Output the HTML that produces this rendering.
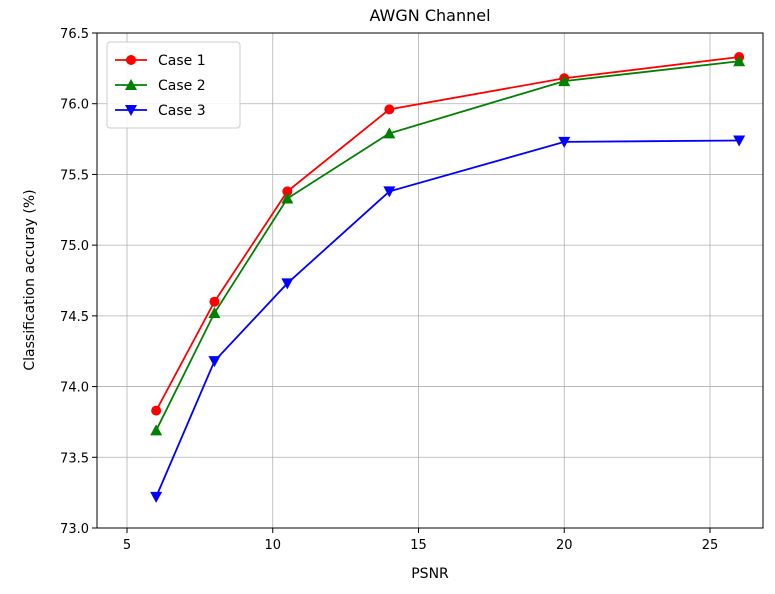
<!DOCTYPE html>
<html><head><meta charset="utf-8"><style>
body{margin:0;background:#fff;}
svg text{font-family:"DejaVu Sans","Liberation Sans",sans-serif;fill:#000;}
</style></head><body>
<svg id="chart" width="775" height="589" xmlns="http://www.w3.org/2000/svg">
<text x="430" y="21" font-size="16" text-anchor="middle">AWGN Channel</text>
<g id="grid"></g>
<g id="axes"></g>
<g id="series"></g>
<text x="430" y="578" font-size="14" text-anchor="middle">PSNR</text>
<text transform="translate(34,280) rotate(-90)" font-size="14" text-anchor="middle">Classification accuray (%)</text>
<g id="legend"></g>
</svg>
<script>
const xs=[6,8,10.5,14,20,26];
const case1=[73.83,74.60,75.38,75.96,76.18,76.33];
const case2=[73.69,74.52,75.33,75.79,76.16,76.30];
const case3=[73.22,74.18,74.73,75.38,75.73,75.74];
const xTicks=[5,10,15,20,25];
const yTicks=[73.0,73.5,74.0,74.5,75.0,75.5,76.0,76.5];
const seriesNames=["Case 1","Case 2","Case 3"];
const L=97,R=763,T=33,B=528;
const X=v=>127+(v-5)*29.15;
const Y=v=>B-(v-73)*(B-T)/3.5;
const NS="http://www.w3.org/2000/svg";
function mk(t,a,p){const e=document.createElementNS(NS,t);for(const k in a)e.setAttribute(k,a[k]);p.appendChild(e);return e;}
const grid=document.getElementById('grid'),axes=document.getElementById('axes');
xTicks.forEach(t=>{const x=X(t);
 const g=mk('line',{x1:x,x2:x,y1:T,y2:B,stroke:'#b0b0b0','stroke-width':0.8},grid);
 
 mk('line',{x1:x,x2:x,y1:B,y2:B+5,stroke:'#000'},axes);
 const tx=mk('text',{x:x,y:B+21,'font-size':13,'text-anchor':'middle'},axes);tx.textContent=t;
 });
yTicks.forEach(t=>{const y=Y(t);
 const g=mk('line',{x1:L,x2:R,y1:y,y2:y,stroke:'#b0b0b0','stroke-width':0.8},grid);
 
 mk('line',{x1:L-5,x2:L,y1:y,y2:y,stroke:'#000'},axes);
 const tx=mk('text',{x:L-8,y:y+5,'font-size':13,'text-anchor':'end'},axes);tx.textContent=t.toFixed(1);
 });
const fr=mk('rect',{x:L,y:T,width:R-L,height:B-T,fill:'none',stroke:'#000','stroke-width':1},axes);

const colors=['#ff0000','#008000','#0000ff'];const data=[case1,case2,case3];
function marker(k,x,y,c,p){
 if(k===0)return mk('circle',{cx:x,cy:y,r:5,fill:c},p);
 if(k===1)return mk('polygon',{points:`${x},${y-6} ${x-6},${y+5} ${x+6},${y+5}`,fill:c},p);
 return mk('polygon',{points:`${x},${y+6} ${x-6},${y-5} ${x+6},${y-5}`,fill:c},p);}
const sg=document.getElementById('series');
data.forEach((d,k)=>{
 const g=mk('g',{},sg);
 const pl=mk('polyline',{points:d.map((v,i)=>X(xs[i])+','+Y(v)).join(' '),fill:'none',stroke:colors[k],'stroke-width':1.8},g);
 
 d.forEach((v,i)=>{const m=marker(k,X(xs[i]),Y(v),colors[k],g);
  });});
const lg=document.getElementById('legend');
const lb=mk('rect',{x:107,y:42,width:133,height:86,rx:3,fill:'#fff','fill-opacity':0.85,stroke:'#ccc'},lg);

seriesNames.forEach((n,k)=>{const y=60+k*25;
 const g=mk('g',{},lg);
 mk('line',{x1:115,x2:147,y1:y,y2:y,stroke:colors[k],'stroke-width':1.8},g);
 marker(k,131,y,colors[k],g);
 const t=mk('text',{x:158,y:y+5,'font-size':14},g);t.textContent=n;});
</script>
</body></html>
